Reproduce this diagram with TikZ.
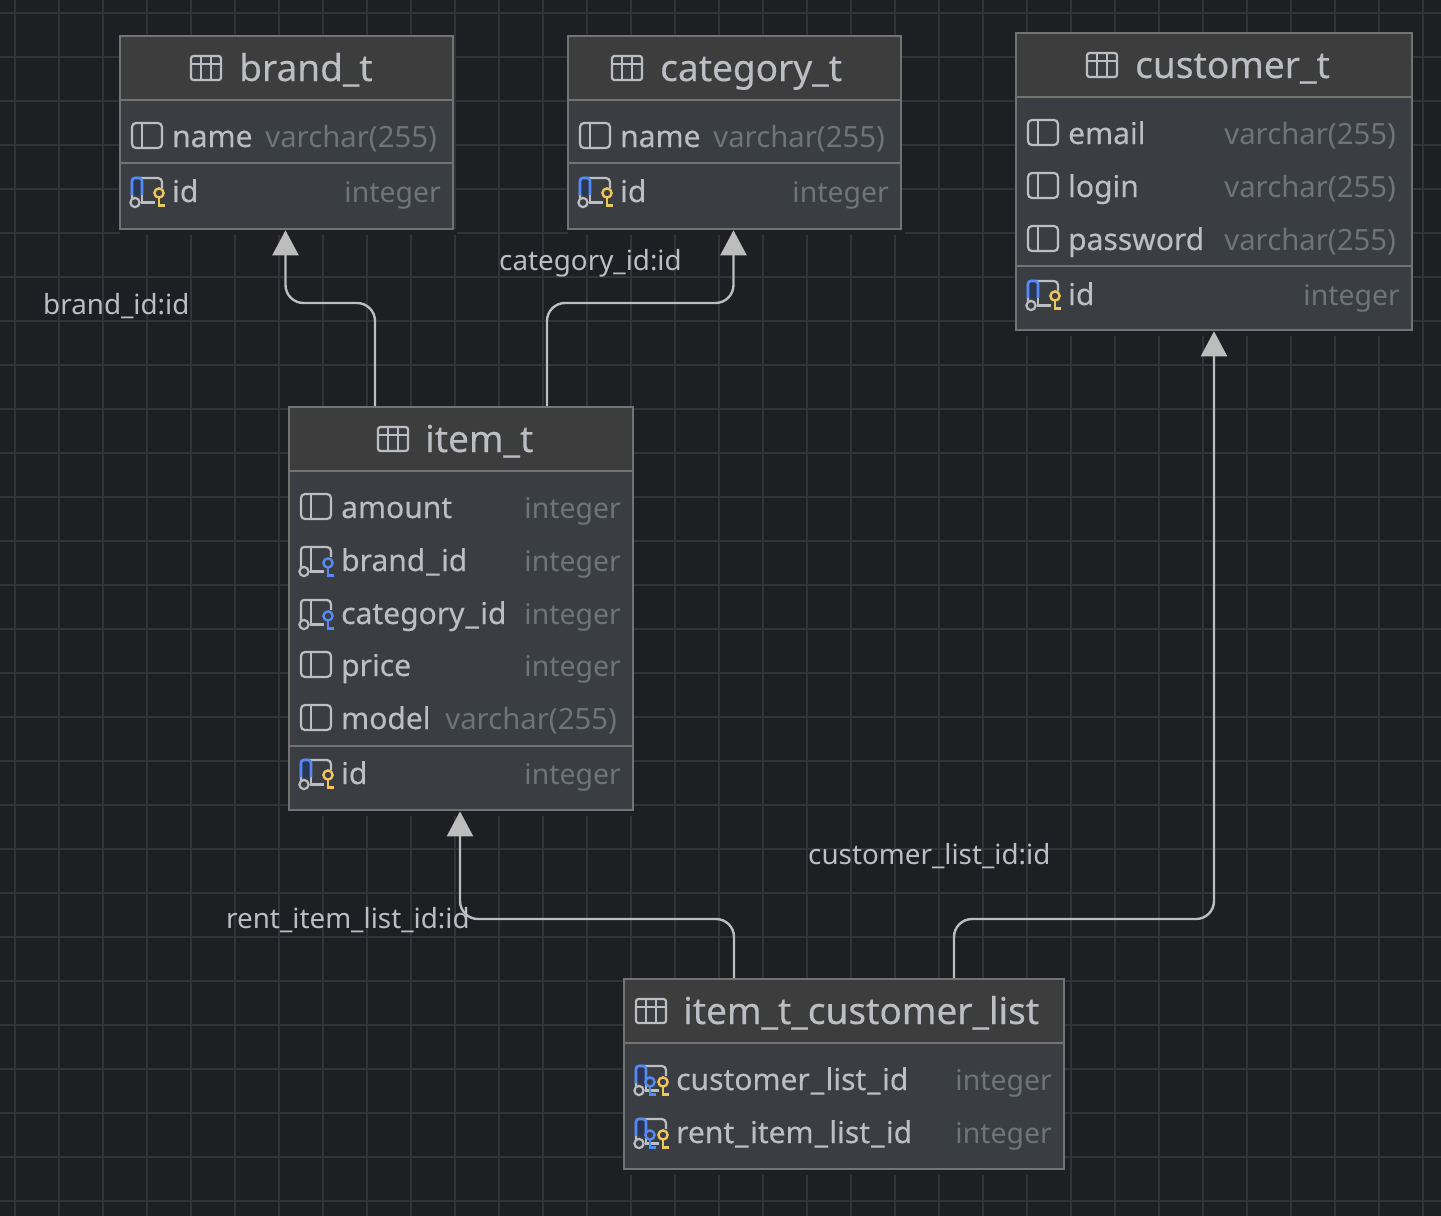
\documentclass[tikz,border=0pt]{standalone}
\usepackage{fontspec}
\setmainfont{Noto Sans}
\newfontfamily\medfont[FakeBold=0.25]{Noto Sans}
\usetikzlibrary{arrows.meta,fit}
\definecolor{bgcol}{HTML}{1E1F22}
\definecolor{gridcol}{HTML}{323334}
\definecolor{bodycol}{HTML}{3A3D41}
\definecolor{headcol}{HTML}{3D3D3D}
\definecolor{edgecol}{HTML}{737373}
\definecolor{textcol}{HTML}{BCBEC4}
\definecolor{typecol}{HTML}{6F737A}
\definecolor{linecol}{HTML}{BDBDBD}
\definecolor{bluecol}{HTML}{548AF7}
\definecolor{navycol}{HTML}{2A3654}
\definecolor{goldcol}{HTML}{F2C55C}
\tikzset{
  tablebox/.style={draw=edgecol,fill=bodycol,line width=2.6pt,inner sep=0pt},
  titletext/.style={text=textcol,anchor=base west,inner sep=0pt,font=\medfont\fontsize{37}{42}\selectfont},
  coltext/.style={text=textcol,anchor=base west,inner sep=0pt,font=\medfont\fontsize{30}{36}\selectfont},
  typetext/.style={text=typecol,anchor=base east,inner sep=0pt,font=\fontsize{28.4}{36}\selectfont},
  reltext/.style={text=textcol,anchor=base west,inner sep=0pt,font=\fontsize{27.8}{32}\selectfont},
  relline/.style={draw=linecol,line width=2.4pt,rounded corners=18pt,-{Triangle[width=26pt,length=25pt,fill=linecol]}},
  iconline/.style={draw=textcol,line width=2.2pt},
  % key with its bow centred on the origin
  pics/keyicon/.style={code={
    \draw[draw=#1,line width=2.4pt,fill=bodycol] (0,0) circle (4.6pt);
    \draw[draw=#1,line width=2.4pt] (0,5) -- (0,14);
    \draw[draw=#1,line width=3.4pt] (0,12.5) -- (6,12.5);
  }},
  pics/tableicon/.style={code={
    \draw[iconline,rounded corners=2.5pt,fill=bodycol] (0,-12) rectangle (30,12);
    \draw[iconline] (0,-4) -- (30,-4) (10,-12) -- (10,12) (20,-12) -- (20,12);
  }},
  pics/plainicon/.style={code={
    \draw[iconline,rounded corners=4pt] (0,-14) rectangle (30,11);
    \draw[iconline] (10,-14) -- (10,11);
  }},
  % frame shared by the key columns, open at the lower left
  pics/keyframe/.style={code={
    \draw[iconline,rounded corners=4pt] (10,-14) -- (30,-14) -- (30,-4);
    \draw[iconline] (9,10.5) -- (23,10.5) (10,-14) -- (10,10.5);
    \draw[iconline,rounded corners=3pt] (0,6) -- (0,-14) -- (10,-14);
    \draw[iconline] (3,10.5) circle (4.6pt);
  }},
  pics/bluecorner/.style={code={
    \fill[navycol,rounded corners=3pt] (0,3) -- (0,-14) -- (10,-14) -- (10,3) -- cycle;
    \draw[draw=bluecol,line width=2.6pt,rounded corners=3pt] (0,3) -- (0,-14) -- (10,-14) -- (10,3);
  }},
  pics/pkicon/.style={code={
    \pic {keyframe};
    \pic {bluecorner};
    \pic at (27,1) {keyicon=goldcol};
  }},
  pics/fkicon/.style={code={
    \pic {keyframe};
    \pic at (27,2) {keyicon=bluecol};
  }},
  pics/pkfkicon/.style={code={
    \pic {keyframe};
    \pic {bluecorner};
    \pic at (14,2) {keyicon=bluecol};
    \pic at (27,2) {keyicon=goldcol};
  }}
}
\newcommand{\us}{\kern1pt\_\kern1.5pt}
\newcommand{\vcsize}{{\fontsize{29.3}{36}\selectfont varchar(255)\kern4pt}}
% name, left, right, top, bottom, title: icon x, text x, mid y, text
\newcommand{\dbtable}[9]{
  \fill[bgcol] (#2,#5) rectangle (#3+4,#5+6);
  \node[tablebox,fit={(#2,#4)(#3,#5)}] (#1) {};
  \fill[headcol] (#2+1,#4+1) rectangle (#3-1,#4+64);
  \draw[edgecol,line width=2.6pt] (#2,#4+64) -- (#3,#4+64);
  \pic at (#6,#8) {tableicon};
  \node[titletext] (#1title) at (#7,#8+13) {#9};
}
% node name, icon, left, right, mid y, column, type
\newcommand{\dbcolumn}[7]{
  \pic at (#3+12,#5) {#2};
  \node[coltext] (#1) at (#3+52,#5+10) {#6};
  \node[typetext] (#1type) at (#4-12,#5+10) {#7};
}
\begin{document}
\begin{tikzpicture}[x=1pt,y=-1pt]
  \useasboundingbox (0,0) rectangle (1441,1216);
  \fill[bgcol] (0,0) rectangle (1441,1216);

  % Background grid
  \foreach \gx in {15,59,...,1441}
    \draw[gridcol,line width=2pt] (\gx,0) -- (\gx,1216);
  \foreach \gy in {13,57,...,1216}
    \draw[gridcol,line width=2pt] (0,\gy) -- (1441,\gy);

  % Tables
  \dbtable{brand}{120}{453}{36}{229}{191}{239}{68}{brand\_t}
  \dbcolumn{brandname}{plainicon}{120}{453}{137}{name}{\vcsize}
  \draw[edgecol,line width=2.6pt] (120,163) -- (453,163);
  \dbcolumn{brandid}{pkicon}{120}{453}{192}{id}{integer}

  \dbtable{category}{568}{901}{36}{229}{612}{660}{68}{category\_t}
  \dbcolumn{categoryname}{plainicon}{568}{901}{137}{name}{\vcsize}
  \draw[edgecol,line width=2.6pt] (568,163) -- (901,163);
  \dbcolumn{categoryid}{pkicon}{568}{901}{192}{id}{integer}

  \dbtable{customer}{1016}{1412}{33}{330}{1087}{1135}{65}{customer\_t}
  \dbcolumn{customeremail}{plainicon}{1016}{1412}{134}{email}{\vcsize}
  \dbcolumn{customerlogin}{plainicon}{1016}{1412}{187}{login}{\vcsize}
  \dbcolumn{customerpass}{plainicon}{1016}{1412}{240}{password}{\vcsize}
  \draw[edgecol,line width=2.6pt] (1016,266) -- (1412,266);
  \dbcolumn{customerid}{pkicon}{1016}{1412}{295}{id}{integer}

  \dbtable{item}{289}{633}{407}{810}{378}{425}{439}{item\_t}
  \dbcolumn{itemamount}{plainicon}{289}{633}{508}{amount}{integer}
  \dbcolumn{itembrand}{fkicon}{289}{633}{561}{brand\us id}{integer}
  \dbcolumn{itemcategory}{fkicon}{289}{633}{614}{category\us id}{integer}
  \dbcolumn{itemprice}{plainicon}{289}{633}{666}{price}{integer}
  \dbcolumn{itemmodel}{plainicon}{289}{633}{719}{model}{\vcsize}
  \draw[edgecol,line width=2.6pt] (289,746) -- (633,746);
  \dbcolumn{itemid}{pkicon}{289}{633}{774}{id}{integer}

  \dbtable{list}{624}{1064}{979}{1169}{636}{683}{1011}{item\_t\_customer\_list}
  \dbcolumn{listcustomer}{pkfkicon}{624}{1064}{1080}{customer\us list\us id}{integer}
  \dbcolumn{listitem}{pkfkicon}{624}{1064}{1133}{rent\us item\us list\us id}{integer}

  % Foreign keys
  \coordinate (brandfoot) at (375,406);
  \coordinate (brandtip) at ([xshift=-1pt]brand.south);
  \coordinate (brandbend) at (brandtip |- 0,303);
  \coordinate (categoryfoot) at (547,406);
  \coordinate (categorytip) at ([xshift=-1pt]category.south);
  \coordinate (categorybend) at (categorytip |- 0,303);
  \coordinate (itemfoot) at (734,978);
  \coordinate (itemtip) at ([xshift=-1pt]item.south);
  \coordinate (itembend) at (itemtip |- 0,919);
  \coordinate (customerfoot) at (954,978);
  \coordinate (customerbend) at (customer.south |- 0,919);
  \draw[relline] (brandfoot) |- (brandbend) -- (brandtip);
  \draw[relline] (categoryfoot) |- (categorybend) -- (categorytip);
  \draw[relline] (itemfoot) |- (itembend) -- (itemtip);
  \draw[relline] (customerfoot) |- (customerbend) -- (customer.south);

  \node[reltext] (brandrel) at (43,314) {brand\_id:id};
  \node[reltext] (categoryrel) at (499,270) {category\_id:id};
  \node[reltext] (customerrel) at (808,864) {customer\_list\_id:id};
  \node[reltext] (itemrel) at (226,928) {rent\_item\_list\_id:id};
\end{tikzpicture}
\end{document}
